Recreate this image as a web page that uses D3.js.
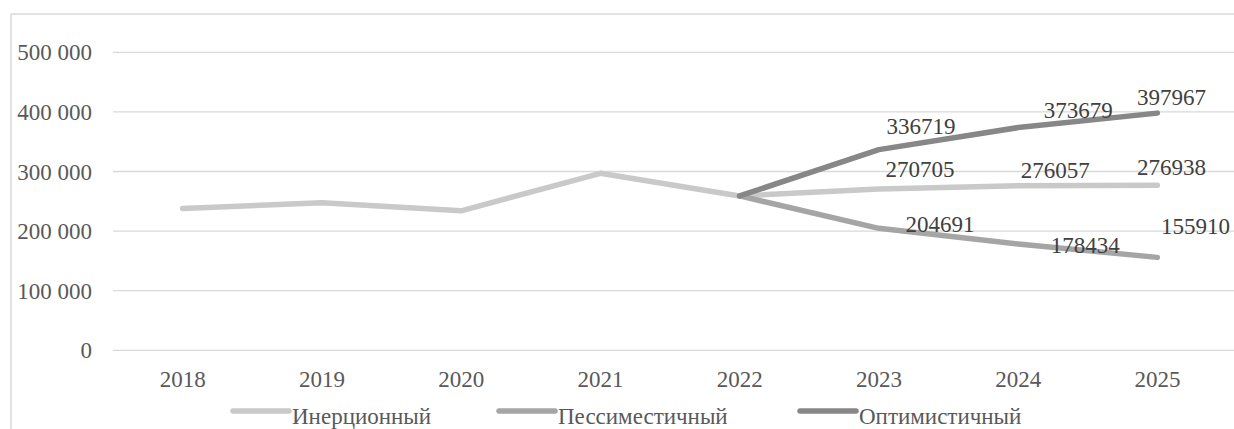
<!DOCTYPE html>
<html>
<head>
<meta charset="utf-8">
<script src="https://cdn.jsdelivr.net/npm/d3@7"></script>
<style>
  html, body { margin: 0; padding: 0; background: #fff; }
  svg { display: block; }
  svg text { font-family: 'Liberation Serif', 'Times New Roman', 'DejaVu Serif', serif; }
</style>
</head>
<body>
<svg id="chart" width="1234" height="429"></svg>
<script>
// Forecast scenarios, 2018–2025
const years = [2018, 2019, 2020, 2021, 2022, 2023, 2024, 2025];
const inertial    = [238000, 247500, 234000, 297000, 259000, 270705, 276057, 276938];
const pessimistic = [null, null, null, null, 259000, 204691, 178434, 155910];
const optimistic  = [null, null, null, null, 259000, 336719, 373679, 397967];
const yTicks = [0, 100000, 200000, 300000, 400000, 500000];
const seriesNames = ["Инерционный", "Пессиместичный", "Оптимистичный"];

// Label offsets (dx, dy) from each labelled point, 2023–2025
const labelOffsets = {
  "Инерционный":    [[41, -12], [37, -8], [14, -10]],
  "Пессиместичный": [[61, 4], [67, 9], [38, -23]],
  "Оптимистичный":  [[42, -16], [60, -10], [14, -8]]
};

const colors = ["#c9c9c9", "#a5a5a5", "#878787"];
const textColor = "#595959";
const gridColor = "#d9d9d9";
const fontSize = 23;
const serif = "'Liberation Serif', 'Times New Roman', 'DejaVu Serif', serif";

const svg = d3.select("#chart");

// chart frame (left and top edges visible)
svg.append("line").attr("x1", 11).attr("x2", 11).attr("y1", 14).attr("y2", 429)
  .attr("stroke", gridColor).attr("stroke-width", 1.5);
svg.append("line").attr("x1", 11).attr("x2", 1234).attr("y1", 14).attr("y2", 14)
  .attr("stroke", gridColor).attr("stroke-width", 1.5);

const plot = { left: 113, right: 1227, top: 52.3, bottom: 350.3 };

const x = d3.scalePoint().domain(years).range([plot.left, plot.right]).padding(0.5);
const y = d3.scaleLinear().domain([0, 500000]).range([plot.bottom, plot.top]);

// horizontal gridlines
svg.append("g").selectAll("line").data(yTicks).join("line")
  .attr("x1", plot.left).attr("x2", 1234)
  .attr("y1", d => y(d)).attr("y2", d => y(d))
  .attr("stroke", gridColor).attr("stroke-width", 1.3);

// y axis labels
const fmt = v => v === 0 ? "0" : d3.format(",")(v).replace(/,/g, "\u00a0");
svg.append("g").selectAll("text").data(yTicks).join("text")
  .attr("x", 92).attr("y", d => y(d) + 8)
  .attr("text-anchor", "end")
  .attr("font-family", serif)
  .attr("fill", textColor).attr("font-size", fontSize)
  .text(fmt);

// x axis labels
svg.append("g").selectAll("text").data(years).join("text")
  .attr("x", d => x(d)).attr("y", 387)
  .attr("text-anchor", "middle")
  .attr("font-family", serif)
  .attr("fill", textColor).attr("font-size", fontSize)
  .text(d => d);

const allSeries = [inertial, pessimistic, optimistic].map((vals, i) => ({
  name: seriesNames[i],
  color: colors[i],
  points: years.map((yr, j) => ({ year: yr, value: vals[j] }))
}));

const line = d3.line()
  .defined(d => d.value !== null)
  .x(d => x(d.year))
  .y(d => y(d.value));

svg.append("g").selectAll("path").data(allSeries).join("path")
  .attr("d", s => line(s.points))
  .attr("fill", "none")
  .attr("stroke", s => s.color)
  .attr("stroke-width", 5.5)
  .attr("stroke-linecap", "round")
  .attr("stroke-linejoin", "round");

// data labels for the forecast years
const labelYears = [2023, 2024, 2025];
allSeries.forEach(s => {
  const pts = s.points.filter(p => labelYears.includes(p.year));
  svg.append("g").selectAll("text").data(pts).join("text")
    .attr("x", (p, k) => x(p.year) + labelOffsets[s.name][k][0])
    .attr("y", (p, k) => y(p.value) + labelOffsets[s.name][k][1])
    .attr("text-anchor", "middle")
    .attr("font-family", serif)
    .attr("fill", "#404040").attr("font-size", fontSize)
    .text(p => p.value);
});

// legend
const legendX = [233, 499, 800];
const legendY = 411;
const lg = svg.append("g").selectAll("g").data(allSeries).join("g")
  .attr("transform", (s, i) => `translate(${legendX[i]},${legendY})`);
lg.append("line")
  .attr("x1", 0).attr("x2", 56).attr("y1", 0).attr("y2", 0)
  .attr("stroke", s => s.color).attr("stroke-width", 5.5)
  .attr("stroke-linecap", "round");
lg.append("text")
  .attr("x", 59).attr("y", 13)
  .attr("font-family", serif)
  .attr("fill", textColor).attr("font-size", fontSize)
  .text(s => s.name);
</script>
</body>
</html>
